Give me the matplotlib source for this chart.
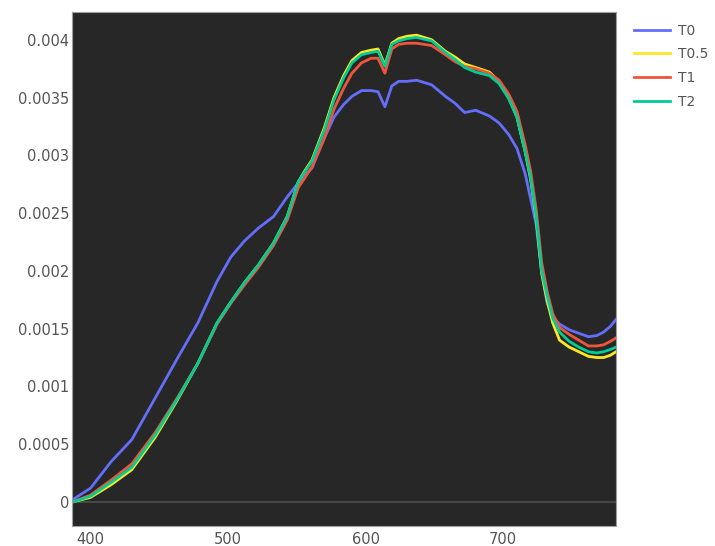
import matplotlib
matplotlib.use("Agg")
import matplotlib.pyplot as plt
from matplotlib.ticker import FuncFormatter

wavelength = [387, 400, 415, 430, 447, 463, 478, 492, 502, 512, 522, 533, 543, 551,
              556, 561, 570, 577, 584, 590, 597, 604, 609, 614, 619, 624, 630, 637,
              648, 658, 665, 672, 680, 690, 697, 704, 710, 716, 720, 724, 728, 732,
              736, 741, 748, 755, 762, 768, 773, 778, 782]

t0 = [0.00002, 0.00012, 0.00035, 0.00054, 0.00090, 0.00124, 0.00155, 0.00191, 0.00212,
      0.00226, 0.00237, 0.00247, 0.00264, 0.00276, 0.00283, 0.00289, 0.00315, 0.00333,
      0.00344, 0.00351, 0.00356, 0.00356, 0.00355, 0.00342, 0.00360, 0.00364, 0.00364,
      0.00365, 0.00361, 0.00351, 0.00345, 0.00337, 0.00339, 0.00334, 0.00328, 0.00318,
      0.00306, 0.00284, 0.00262, 0.00240, 0.00198, 0.00172, 0.00160, 0.00154, 0.00149,
      0.00146, 0.00143, 0.00144, 0.00147, 0.00152, 0.00158]

t05 = [0.0, 0.00004, 0.00015, 0.00028, 0.00056, 0.00088, 0.00120, 0.00155, 0.00173,
       0.00190, 0.00205, 0.00224, 0.00247, 0.00277, 0.00287, 0.00296, 0.00324, 0.00350,
       0.00369, 0.00382, 0.00389, 0.00391, 0.00392, 0.00378, 0.00397, 0.00401, 0.00403,
       0.00404, 0.00400, 0.00390, 0.00385, 0.00379, 0.00376, 0.00372, 0.00364, 0.00350,
       0.00333, 0.00303, 0.00279, 0.00245, 0.00198, 0.00174, 0.00155, 0.00140, 0.00134,
       0.00130, 0.00126, 0.00125, 0.00125, 0.00127, 0.00130]

t1 = [0.0, 0.00006, 0.00019, 0.00033, 0.00060, 0.00090, 0.00120, 0.00154, 0.00172,
      0.00188, 0.00203, 0.00222, 0.00244, 0.00272, 0.00281, 0.00290, 0.00315, 0.00340,
      0.00358, 0.00371, 0.00380, 0.00384, 0.00384, 0.00371, 0.00392, 0.00396, 0.00397,
      0.00397, 0.00395, 0.00387, 0.00381, 0.00377, 0.00375, 0.00371, 0.00365, 0.00353,
      0.00338, 0.00309, 0.00286, 0.00253, 0.00207, 0.00182, 0.00163, 0.00151, 0.00145,
      0.00140, 0.00135, 0.00135, 0.00136, 0.00139, 0.00142]

t2 = [0.0, 0.00005, 0.00017, 0.00030, 0.00058, 0.00089, 0.00120, 0.00155, 0.00173,
      0.00190, 0.00205, 0.00224, 0.00247, 0.00277, 0.00286, 0.00295, 0.00322, 0.00348,
      0.00367, 0.00380, 0.00387, 0.00389, 0.00390, 0.00377, 0.00396, 0.00399, 0.00401,
      0.00402, 0.00399, 0.00389, 0.00383, 0.00376, 0.00372, 0.00369, 0.00362, 0.00349,
      0.00333, 0.00303, 0.00280, 0.00247, 0.00200, 0.00178, 0.00159, 0.00147, 0.00139,
      0.00134, 0.00130, 0.00129, 0.00130, 0.00132, 0.00134]

series = [("T0", t0, "#636efa"), ("T0.5", t05, "#fde725"), ("T1", t1, "#ef553b"), ("T2", t2, "#00cc96")]
y_ticks = [0, 0.0005, 0.001, 0.0015, 0.002, 0.0025, 0.003, 0.0035, 0.004]
x_ticks = [400, 500, 600, 700]

fig = plt.figure(figsize=(7.15, 5.46), dpi=100, facecolor="white")
ax = fig.add_axes([0.1007, 0.0366, 0.7608, 0.9414])
ax.set_facecolor("#272727")

ax.axhline(0, color="#474747", lw=1.5, zorder=1)
for name, vals, col in series:
    ax.plot(wavelength, vals, color=col, lw=2, label=name, zorder=2)

ax.set_xlim(386.5, 782)
ax.set_ylim(-0.000208, 0.00424)
ax.set_xticks(x_ticks)
ax.set_yticks(y_ticks)
ax.yaxis.set_major_formatter(FuncFormatter(lambda v, p: "0" if v == 0 else f"{v:g}"))
ax.tick_params(length=0, colors="#555555", labelsize=10.5)
ax.tick_params(axis="y", pad=2)
ax.tick_params(axis="x", pad=4)
for s in ax.spines.values():
    s.set_color("#a0a0a0")
    s.set_linewidth(0.8)

fig.legend(loc="upper left", bbox_to_anchor=(0.879, 0.967), frameon=False,
           handlelength=2.6, handletextpad=0.55, labelspacing=0.7,
           fontsize=10, labelcolor="#555555", borderaxespad=0.2, borderpad=0.2)

fig.savefig("out.png", dpi=100, facecolor="white")
